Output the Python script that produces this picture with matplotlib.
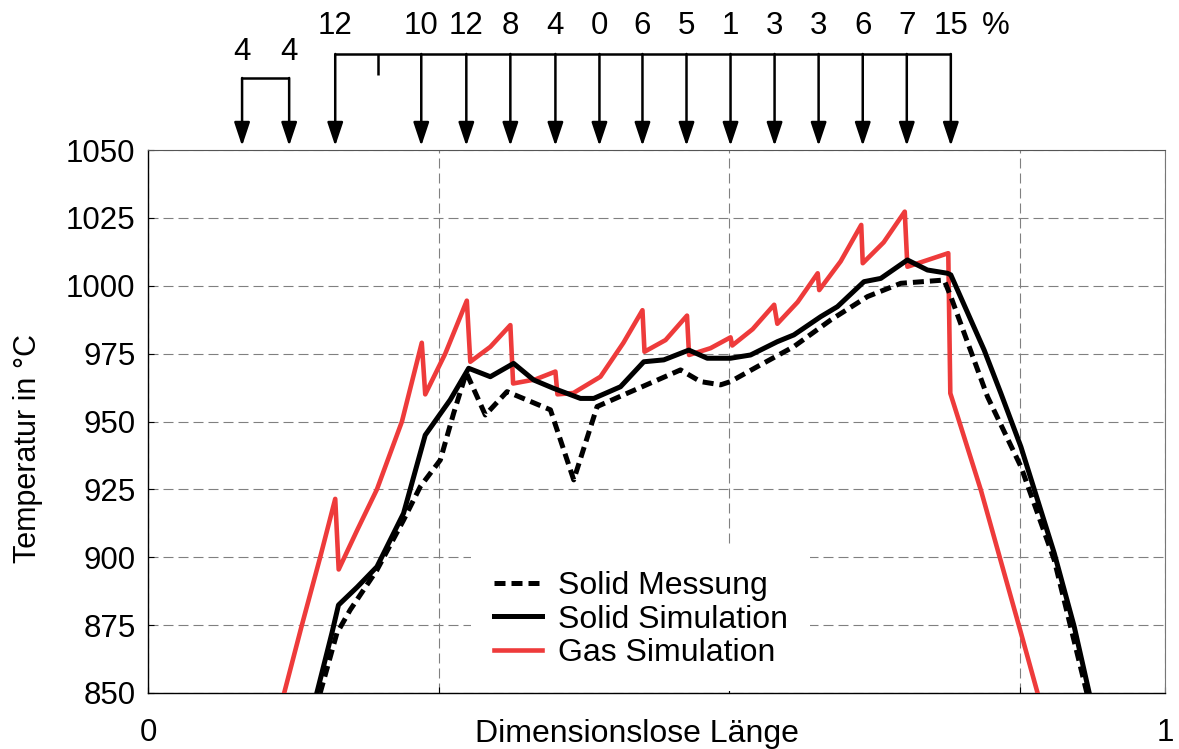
import numpy as np
import matplotlib
matplotlib.use("agg")
import matplotlib.pyplot as plt

plt.rcParams['font.family'] = ['Liberation Sans', 'DejaVu Sans']

# Gas Simulation (red)
gas_x = [0.1339, 0.1513, 0.1693, 0.1841, 0.1875, 0.2057, 0.2251, 0.2497, 0.2692, 0.2726,
         0.2923, 0.3135, 0.3169, 0.3366, 0.3563, 0.3590, 0.3809, 0.4006, 0.4026, 0.4183,
         0.4449, 0.4675, 0.4862, 0.4882, 0.5089, 0.5300, 0.5320, 0.5531, 0.5728, 0.5745,
         0.5945, 0.6157, 0.6188, 0.6388, 0.6585, 0.6600, 0.6811, 0.7013, 0.7028, 0.7234,
         0.7441, 0.7467, 0.7869, 0.7889, 0.8189, 0.8566, 0.8747]
gas_y = [850, 875, 900, 921.5, 895.5, 910, 925, 950, 979, 960,
         975, 994.5, 972, 977.5, 985.5, 964, 965.5, 968.4, 960, 960.5,
         966.5, 979, 991, 975.7, 980, 989, 974.5, 977, 981, 978,
         984, 993, 986, 994, 1004.6, 998.4, 1009, 1022.4, 1008.3, 1016,
         1027.3, 1007, 1012, 960.4, 924.8, 874.5, 850]

# Solid Simulation (black solid)
sim_x = [0.1660, 0.1808, 0.1873, 0.2057, 0.2251, 0.2513, 0.2726, 0.2972, 0.3153, 0.3366,
         0.3595, 0.3792, 0.3989, 0.4252, 0.4383, 0.4646, 0.4875, 0.5072, 0.5318, 0.5499,
         0.5728, 0.5925, 0.6188, 0.6351, 0.6614, 0.6779, 0.7040, 0.7205, 0.7467, 0.7664,
         0.7861, 0.7894, 0.8222, 0.8386, 0.8583, 0.8747, 0.8911, 0.9107, 0.9255]
sim_y = [850, 872, 882.4, 889, 896.5, 916.2, 945, 958, 969.6, 966.5,
         971.4, 965.3, 962.2, 958.5, 958.5, 962.8, 972, 972.7, 976.3, 973.3,
         973.3, 974.5, 979.4, 981.9, 988.6, 992.3, 1001.5, 1002.7, 1009.5, 1005.8,
         1004.6, 1004, 976.3, 960.4, 940.7, 921.1, 901.5, 874.5, 850]

# Solid Messung (black dashed)
mess_x = [0.1693, 0.1857, 0.1988, 0.2251, 0.2513, 0.2677, 0.2874, 0.3005, 0.3130, 0.3317,
          0.3530, 0.3957, 0.4186, 0.4416, 0.4712, 0.5236, 0.5433, 0.5630, 0.5728, 0.5991,
          0.6351, 0.6713, 0.7074, 0.7402, 0.7828, 0.7894, 0.8255, 0.8583, 0.8911, 0.9232]
mess_y = [850, 872, 880.6, 895.3, 913.7, 926, 935.8, 953, 968, 952.4,
          961, 954.3, 928.5, 955.5, 960.4, 969, 964.7, 963.5, 964.7, 970.2,
          977.6, 987.4, 996, 1000.9, 1002.1, 996, 959.1, 933.4, 899, 850]

# injection points and percentages at the top
inj_x = [0.0925, 0.1388, 0.1841, 0.2687, 0.3130, 0.3563, 0.4006, 0.4439,
         0.4862, 0.5295, 0.5728, 0.6161, 0.6594, 0.7028, 0.7461, 0.7894]
inj_lbl = ['4', '4', '12', '10', '12', '8', '4', '0', '6', '5', '1', '3', '3', '6', '7', '15']
mark_x = 0.2261

yticks = [850, 875, 900, 925, 950, 975, 1000, 1025, 1050]

fig = plt.figure(figsize=(11.79, 7.49), dpi=100)
ax = fig.add_axes([148/1179, 56/749, 1017/1179, 543/749])

red = '#ee3b3b'
l_gas, = ax.plot(gas_x, gas_y, color=red, lw=3.3, zorder=3)
l_mess, = ax.plot(mess_x, mess_y, color='black', lw=3.6, dashes=(2.2, 1.2), zorder=4)
l_sim, = ax.plot(sim_x, sim_y, color='black', lw=3.6, zorder=5)

ax.set_xlim(0, 1)
ax.set_ylim(850, 1050)
ax.set_xticks([0, 2/7, 4/7, 6/7, 1])
ax.set_xticklabels(['0', '', '', '', '1'])
ax.set_yticks(yticks)
ax.set_yticklabels([str(v) for v in yticks])
ax.tick_params(axis='both', direction='in', length=4, width=0.8, labelsize=22.5)
ax.tick_params(axis='x', pad=18)
ax.tick_params(axis='y', pad=9)
ax.grid(True, ls=(0, (9, 4.5)), lw=0.8, color='#808080')
ax.set_axisbelow(True)
for s in ['left', 'bottom']:
    ax.spines[s].set_linewidth(1.0)
ax.spines['top'].set_color('#555555')
ax.spines['right'].set_color('#777777')

ax.set_xlabel('Dimensionslose Länge', fontsize=23, va='center')
ax.xaxis.set_label_coords(0.481, -0.075)
ax.set_ylabel('Temperatur in °C', fontsize=22, va='center')
ax.yaxis.set_label_coords(-0.118, 0.45)

ax.legend([l_mess, l_sim, l_gas], ['Solid Messung', 'Solid Simulation', 'Gas Simulation'],
          loc='lower left', bbox_to_anchor=(0.318, 0.004), borderaxespad=0,
          frameon=True, fancybox=False, edgecolor='none', facecolor='white', framealpha=1,
          fontsize=23, handlelength=1.5, handletextpad=0.5, labelspacing=0.12, borderpad=0.7)

# arrows above the plot
tr = ax.get_xaxis_transform()
tip = 1.0074
top_big = 1.1768
top_small = 1.1326
arrow_kw = dict(arrowstyle='-|>,head_length=0.72,head_width=0.24', mutation_scale=20,
                lw=1.8, color='black', shrinkA=0, shrinkB=0)
for i, x in enumerate(inj_x):
    y0 = top_small if i < 2 else top_big
    ax.annotate('', xy=(x, tip), xytext=(x, y0), xycoords=tr, textcoords=tr,
                arrowprops=arrow_kw, annotation_clip=False)
    ty = 1.1805 if i < 2 else 1.2284
    ax.text(x, ty, inj_lbl[i], transform=tr, ha='center', va='center', fontsize=22.5)
ax.plot([inj_x[0], inj_x[1]], [top_small, top_small], transform=tr, color='black',
        lw=1.8, clip_on=False, solid_capstyle='butt')
ax.plot([inj_x[2], inj_x[-1]], [top_big, top_big], transform=tr, color='black',
        lw=1.8, clip_on=False, solid_capstyle='butt')
ax.plot([mark_x, mark_x], [top_big, 1.1381], transform=tr, color='black',
        lw=1.8, clip_on=False, solid_capstyle='butt')
ax.text(0.8337, 1.2284, '%', transform=tr, ha='center', va='center', fontsize=22.5)

fig.savefig('out.png', dpi=100)
